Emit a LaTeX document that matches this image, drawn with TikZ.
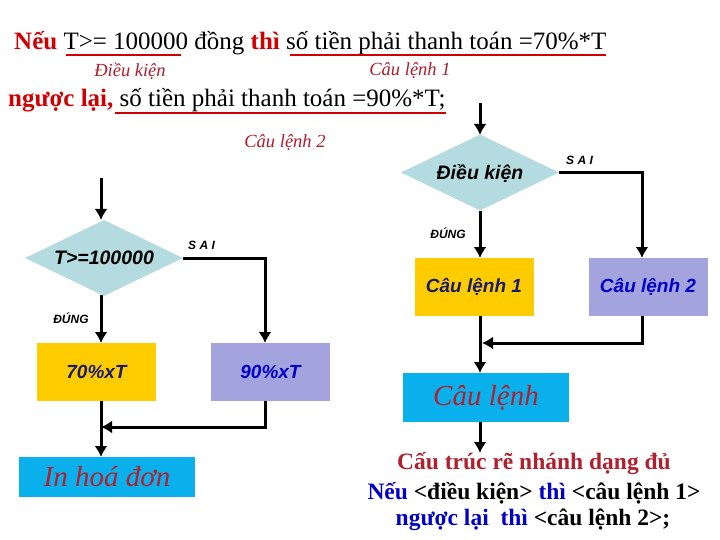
\documentclass[tikz,border=0pt]{standalone}
\usepackage{fontspec}
\setmainfont{Liberation Serif}
\setsansfont{Liberation Sans}
\usetikzlibrary{shapes.geometric,arrows.meta}
\definecolor{hdred}{HTML}{D00000}
\definecolor{lblred}{HTML}{B01E2E}
\definecolor{dia}{HTML}{B4DCE0}
\definecolor{yel}{HTML}{FFCC00}
\definecolor{lav}{HTML}{A3A3DD}
\definecolor{cyanbox}{HTML}{0AB0EC}
\definecolor{navy}{HTML}{1A1A70}
\definecolor{bluetxt}{HTML}{0000C8}
\definecolor{boxred}{HTML}{B0202E}
\newcommand{\dtext}[1]{\raisebox{-0.35em}[0pt][0pt]{\makebox[0pt]{#1}}}
\tikzset{
  dec/.style={diamond, fill=dia, inner sep=0pt, minimum width=158pt, minimum height=76pt,
    font=\sffamily\bfseries\itshape\fontsize{19.5}{19.5}\selectfont},
  ybox/.style={rectangle, fill=yel, inner sep=0pt, minimum width=119pt, minimum height=58pt, text=navy, font=\sffamily\bfseries\itshape\fontsize{19}{19}\selectfont},
  lbox/.style={rectangle, fill=lav, inner sep=0pt, minimum width=119pt, minimum height=58pt, text=bluetxt, font=\sffamily\bfseries\itshape\fontsize{19}{19}\selectfont},
  cbox/.style={rectangle, fill=cyanbox, inner sep=0pt, text=boxred, font=\itshape\fontsize{29}{29}\selectfont},
  flow/.style={line width=3pt, -{Latex[length=11pt,width=13pt]}},
  tag/.style={font=\sffamily\bfseries\itshape\fontsize{12}{12}\selectfont, inner sep=0pt},
  capt/.style={font=\itshape\fontsize{18.5}{18.5}\selectfont, text=lblred, inner sep=0pt},
  uline/.style={line width=2.2pt, draw=hdred}
}
\begin{document}
\begin{tikzpicture}[x=1pt,y=-1pt]
\fill[white] (0,0) rectangle (720,540);
\useasboundingbox (0,0) rectangle (720,540);
% header text
\node[anchor=base west, inner sep=0pt, font=\fontsize{25}{25}\selectfont] (h1) at (14,50)
  {\textbf{\color{hdred}Nếu} T>= 100000 đồng \textbf{\color{hdred}thì} số tiền phải thanh toán =70\%*T};
\draw[uline] (66,55) -- (181,55);
\draw[uline] (290,55) -- (606,55);
\node[capt] (c1) at (130,71) {Điều kiện};
\node[capt] (c2) at (410,71) {Câu lệnh 1};
\node[anchor=base west, inner sep=0pt, font=\fontsize{25}{25}\selectfont] (h2) at (8,107)
  {\textbf{\color{hdred}ngược lại,} số tiền phải thanh toán =90\%*T;};
\draw[uline] (115,113) -- (446,113);
\node[capt] (c3) at (285,143) {Câu lệnh 2};
% left flowchart
\coordinate (ls) at (101,178);
\node[dec] (d1) at (104,258) {\dtext{T>=100000}};
\node[ybox] (b70) at (96.5,372) {70\%xT};
\node[lbox] (b90) at (270.5,372) {90\%xT};
\node[cbox, minimum width=176pt, minimum height=40pt] (inv) at (107,477) {In hoá đơn};
\draw[flow] (ls) -- (101,220);
\draw[flow] (101,295) -- (101,343);
\draw[flow] (d1.east) -| (265,343);
\coordinate (m1) at (101,427);
\draw[flow] (265,401) |- (m1);
\draw[flow] (101,401) -- (101,457);
\node[tag, anchor=west] (s1) at (188,245) {S A I};
\node[tag] (t1) at (71,318) {ĐÚNG};
% right flowchart
\coordinate (rs) at (480,103);
\node[dec] (d2) at (480,172.5) {\dtext{Điều kiện}};
\node[ybox] (k1) at (474,287) {Câu lệnh 1};
\node[lbox] (k2) at (648,287) {Câu lệnh 2};
\node[cbox, minimum width=166pt, minimum height=49pt] (ck) at (486,397.5) {Câu lệnh};
\draw[flow] (rs) -- (480,135);
\draw[flow] (d2.south) -- (480,258);
\draw[flow] (d2.east) -| (642,258);
\draw[flow] (642,316) |- (482,343);
\draw[flow] (480,316) -- (480,373);
\coordinate (re) at (480,453);
\draw[flow] (480,422) -- (re);
\node[tag, anchor=west] (s2) at (566,160) {S A I};
\node[tag] (t2) at (448,233) {ĐÚNG};
% bottom text
\node[inner sep=0pt, font=\bfseries\fontsize{23.5}{23.5}\selectfont, text=boxred] (f1) at (534,464) {Cấu trúc rẽ nhánh dạng đủ};
\node[inner sep=0pt, font=\bfseries\fontsize{23.5}{23.5}\selectfont] (f2) at (534,493) {\color{bluetxt}Nếu \color{black}<điều kiện> \color{bluetxt}thì \color{black}<câu lệnh 1>};
\node[inner sep=0pt, font=\bfseries\fontsize{23.5}{23.5}\selectfont] (f3) at (533,520) {\color{bluetxt}ngược lại~ thì \color{black}<câu lệnh 2>;};
\end{tikzpicture}
\end{document}
